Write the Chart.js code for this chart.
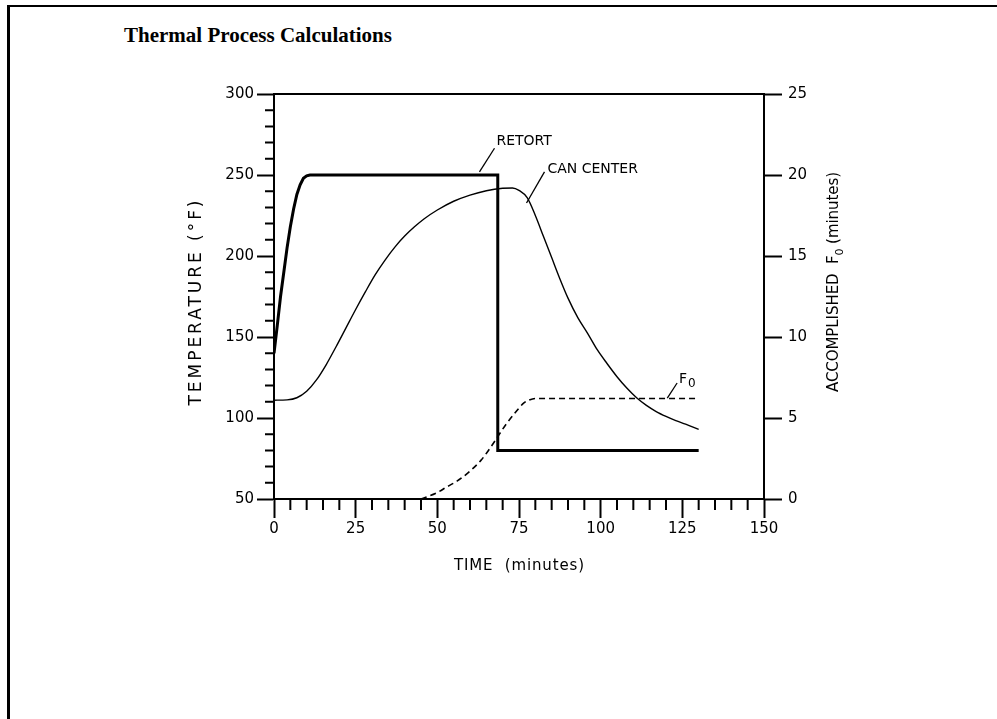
<!DOCTYPE html>
<html>
<head>
<meta charset="utf-8">
<script src="https://cdn.jsdelivr.net/npm/chart.js@4.4.0/dist/chart.umd.min.js"></script>
<style>
  body { margin: 0; background: #fff; overflow: hidden; }
  #page { position: relative; width: 997px; height: 719px; }
  #frame { position: absolute; left: 7px; top: 5px; right: 0; bottom: 0;
           border-left: 3px solid #000; border-top: 2px solid #000; }
  #head { position: absolute; left: 124px; top: 23px; line-height: 1;
          font: bold 21px "Liberation Serif", "Times New Roman", serif; color: #000; }
  #wrap { position: absolute; left: 0; top: 0; width: 997px; height: 719px; }
</style>
</head>
<body>
<div id="page">
  <div id="frame"></div>
  <div id="head">Thermal Process Calculations</div>
  <div id="wrap"><canvas id="chart"></canvas></div>
</div>
<script>
// retort temperature (°F) against time (minutes)
const retortTime = [0, 1, 2, 3, 4, 5, 6, 7, 8, 9, 10, 11, 68.5, 68.5, 130];
const retortTemp = [140, 157, 175, 190, 205, 218, 229, 238, 244, 248, 249.5, 250, 250, 80, 80];

// can center temperature (°F)
const canTime = [0, 4, 7, 10, 13, 16, 19, 22, 25, 28, 31, 34, 37, 40, 43, 46, 50, 55, 60, 65, 70, 73, 75, 77.5, 80, 82.5, 85, 87.5, 90, 93, 96, 99, 102, 105, 108, 111, 114, 117, 120, 123, 126, 130];
const canTemp = [111, 111.2, 112.5, 116.5, 123.5, 133, 144, 155.5, 167, 178, 188.5, 197.5, 205.5, 212.3, 218, 223, 228.4, 233.8, 237.6, 240.3, 241.8, 242, 240.5, 236, 225, 212, 199, 186, 174, 162, 152.3, 142, 133.5, 125.5, 118.5, 112.5, 107.8, 104, 101, 98.4, 96.2, 93];

// accomplished F0 (minutes)
const foTime = [45, 50, 53, 56, 59.3, 63.4, 66, 68.5, 71, 73.6, 76.6, 78, 80, 129];
const foValue = [0, 0.4, 0.76, 1.1, 1.6, 2.4, 3.1, 3.85, 4.6, 5.27, 5.95, 6.1, 6.2, 6.2];

const xTickStep = 25, xMinorStep = 5;
const yTickStep = 50, yMinorStep = 10;
const y2TickStep = 5;

// curve labels: text anchor and leader line, in data units (x minutes, y °F)
const notes = [
  { text: 'RETORT', at: [68.1, 268.5], from: [67.5, 266.5], to: [62.9, 251.9] },
  { text: 'CAN CENTER', at: [83.7, 251.2], from: [82.8, 251.9], to: [77.3, 232.7] },
  { text: 'F', sub: '0', at: [124, 121.6], from: [123.4, 121.6], to: [120.4, 112.3] }
];

const pairs = (xs, ys) => xs.map((x, i) => ({ x: x, y: ys[i] }));
const FONT = '"DejaVu Sans", "Liberation Sans", sans-serif';

// draw text runs [text, size, dy] centred on (0,0), stretched to a given width
function fitRuns(ctx, runs, width) {
  let natural = 0, chars = 0;
  runs.forEach(r => {
    ctx.font = r[1] + 'px ' + FONT;
    ctx.letterSpacing = '0px';
    natural += ctx.measureText(r[0]).width;
    chars += r[0].length;
  });
  const ls = (width - natural) / Math.max(1, chars - 1);
  let x = -width / 2;
  ctx.textAlign = 'left';
  runs.forEach(r => {
    ctx.font = r[1] + 'px ' + FONT;
    ctx.letterSpacing = ls + 'px';
    ctx.fillText(r[0], x, r[2]);
    x += ctx.measureText(r[0]).width;
  });
  ctx.letterSpacing = '0px';
}

const decorations = {
  id: 'decorations',
  afterDraw(chart) {
    const { ctx, chartArea, scales } = chart;
    const X = scales.x, Y = scales.y;
    ctx.save();
    ctx.strokeStyle = '#000';
    ctx.fillStyle = '#000';
    ctx.lineWidth = 2;
    ctx.beginPath();
    for (let t = X.min; t <= X.max; t += xMinorStep) {
      if (t % xTickStep === 0) continue;
      const px = X.getPixelForValue(t);
      ctx.moveTo(px, chartArea.bottom);
      ctx.lineTo(px, chartArea.bottom + 11);
    }
    for (let v = Y.min; v <= Y.max; v += yMinorStep) {
      if (v % yTickStep === 0) continue;
      const py = Y.getPixelForValue(v);
      ctx.moveTo(chartArea.left - 9, py);
      ctx.lineTo(chartArea.left + 1, py);
    }
    ctx.moveTo(chartArea.left - 1, chartArea.top);
    ctx.lineTo(chartArea.right + 1, chartArea.top);
    ctx.stroke();

    // curve labels
    ctx.lineWidth = 1.3;
    ctx.textBaseline = 'alphabetic';
    ctx.textAlign = 'left';
    notes.forEach(n => {
      ctx.beginPath();
      ctx.moveTo(X.getPixelForValue(n.from[0]), Y.getPixelForValue(n.from[1]));
      ctx.lineTo(X.getPixelForValue(n.to[0]), Y.getPixelForValue(n.to[1]));
      ctx.stroke();
      const tx = X.getPixelForValue(n.at[0]), ty = Y.getPixelForValue(n.at[1]);
      ctx.font = '14px ' + FONT;
      ctx.fillText(n.text, tx, ty);
      if (n.sub) {
        const w = ctx.measureText(n.text).width;
        ctx.font = '12px ' + FONT;
        ctx.fillText(n.sub, tx + w + 1, ty + 4);
      }
    });

    // axis titles
    ctx.textBaseline = 'middle';
    ctx.save();
    ctx.translate((chartArea.left + chartArea.right) / 2, 566);
    fitRuns(ctx, [['TIME  (minutes)', 15, 0]], 130);
    ctx.restore();

    ctx.save();
    ctx.translate(197, 303);
    ctx.rotate(-Math.PI / 2);
    fitRuns(ctx, [['TEMPERATURE (°F)', 17, 0]], 205);
    ctx.restore();

    ctx.save();
    ctx.translate(834, 282);
    ctx.rotate(-Math.PI / 2);
    fitRuns(ctx, [['ACCOMPLISHED  F', 15, 0], ['0', 11, 6], [' (minutes)', 15, 0]], 220);
    ctx.restore();

    ctx.restore();
  }
};

const tickFont = { family: FONT, size: 15 };

new Chart(document.getElementById('chart'), {
  type: 'line',
  data: {
    datasets: [
      {
        label: 'Retort',
        data: pairs(retortTime, retortTemp),
        borderColor: '#000',
        borderWidth: 3,
        tension: 0,
        pointRadius: 0,
        yAxisID: 'y'
      },
      {
        label: 'Can center',
        data: pairs(canTime, canTemp),
        borderColor: '#000',
        borderWidth: 1.4,
        cubicInterpolationMode: 'monotone',
        pointRadius: 0,
        yAxisID: 'y'
      },
      {
        label: 'F0',
        data: pairs(foTime, foValue),
        borderColor: '#000',
        borderWidth: 1.6,
        borderDash: [6, 4],
        cubicInterpolationMode: 'monotone',
        pointRadius: 0,
        yAxisID: 'y2'
      }
    ]
  },
  options: {
    responsive: true,
    maintainAspectRatio: false,
    animation: false,
    layout: { padding: { left: 210, right: 169, top: 94, bottom: 180 } },
    plugins: {
      legend: { display: false },
      tooltip: { enabled: false }
    },
    scales: {
      x: {
        type: 'linear',
        min: 0,
        max: 150,
        afterFit: s => { s.height = 40; },
        border: { color: '#000', width: 2 },
        grid: { drawOnChartArea: false, color: '#000', tickWidth: 2, tickLength: 19 },
        ticks: { stepSize: xTickStep, color: '#000', font: tickFont, padding: 2, maxRotation: 0 }
      },
      y: {
        position: 'left',
        min: 50,
        max: 300,
        afterFit: s => { s.width = 64; },
        border: { color: '#000', width: 2 },
        grid: { drawOnChartArea: false, color: '#000', tickWidth: 2, tickLength: 17 },
        ticks: { stepSize: yTickStep, color: '#000', font: tickFont, padding: 3 }
      },
      y2: {
        position: 'right',
        min: 0,
        max: 25,
        afterFit: s => { s.width = 64; },
        border: { color: '#000', width: 2 },
        grid: { drawOnChartArea: false, color: '#000', tickWidth: 2, tickLength: 18 },
        ticks: { stepSize: y2TickStep, color: '#000', font: tickFont, padding: 6 }
      }
    }
  },
  plugins: [decorations]
});
</script>
</body>
</html>
